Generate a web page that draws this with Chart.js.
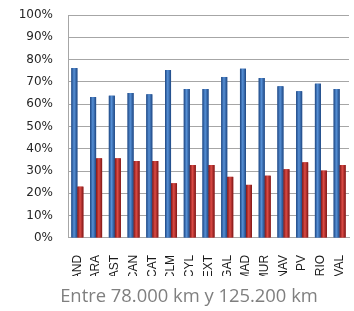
<!DOCTYPE html>
<html>
<head>
<meta charset="utf-8">
<script src="https://cdn.jsdelivr.net/npm/chart.js@4/dist/chart.umd.min.js"></script>
<style>
  html, body { margin: 0; padding: 0; background: #ffffff; }
  #grafico { display: block; }
</style>
</head>
<body>
<canvas id="grafico" width="354" height="311"></canvas>
<script>
// Comunidades autónomas
const comunidades = ['AND', 'ARA', 'AST', 'CAN', 'CAT', 'CLM', 'CYL', 'EXT', 'GAL', 'MAD', 'MUR', 'NAV', 'PV', 'RIO', 'VAL'];

// Porcentajes (serie azul y serie roja)
const serieAzul = [76.2, 63.2, 63.8, 65.0, 64.4, 75.3, 66.8, 66.8, 72.2, 75.9, 71.7, 68.0, 65.8, 69.2, 66.8];
const serieRoja = [23.0, 35.7, 35.7, 34.5, 34.5, 24.5, 32.7, 32.7, 27.4, 23.8, 27.9, 30.8, 33.9, 30.2, 32.7];

const ticksY = [0, 10, 20, 30, 40, 50, 60, 70, 80, 90, 100];
const titulo = 'Entre 78.000 km y 125.200 km';

// colores de cada serie: borde oscuro / centro claro
const tonos = [
  { base: '#3465a8', borde: '#1d4682', centro: '#5690d6' },
  { base: '#b52a2a', borde: '#7e1515', centro: '#dc4b45' }
];

// Plugin: sombreado cilíndrico sobre cada barra
const sombreado = {
  id: 'sombreado',
  afterDatasetsDraw(chart) {
    const ctx = chart.ctx;
    chart.data.datasets.forEach((ds, i) => {
      const meta = chart.getDatasetMeta(i);
      const t = tonos[i];
      meta.data.forEach(bar => {
        const { x, y, base, width } = bar.getProps(['x', 'y', 'base', 'width'], true);
        const x0 = x - width / 2;
        const g = ctx.createLinearGradient(x0, 0, x0 + width, 0);
        g.addColorStop(0, t.borde);
        g.addColorStop(0.45, t.centro);
        g.addColorStop(1, t.borde);
        ctx.save();
        ctx.fillStyle = g;
        ctx.fillRect(x0, y, width, base - y);
        ctx.restore();
      });
    });
  }
};

new Chart(document.getElementById('grafico'), {
  type: 'bar',
  data: {
    labels: comunidades,
    datasets: [
      { data: serieAzul, backgroundColor: tonos[0].base, borderWidth: 0, categoryPercentage: 0.64, barPercentage: 1 },
      { data: serieRoja, backgroundColor: tonos[1].base, borderWidth: 0, categoryPercentage: 0.64, barPercentage: 1 }
    ]
  },
  options: {
    responsive: false,
    animation: false,
    // derecha negativa para centrar el título como en el original
    layout: { padding: { left: 18, right: -6, top: 15, bottom: 0 } },
    plugins: {
      legend: { display: false },
      tooltip: { enabled: false },
      title: {
        display: true,
        text: titulo,
        position: 'bottom',
        color: '#7f7f7f',
        font: { family: "'Open Sans', sans-serif", size: 18.4, weight: 'normal' },
        padding: { top: 10, bottom: 3 }
      }
    },
    scales: {
      x: {
        grid: { display: false },
        border: { color: '#a6a6a6', width: 1 },
        ticks: {
          color: '#1a1a1a',
          font: { family: "'Liberation Sans', sans-serif", size: 12 },
          maxRotation: 90,
          minRotation: 90,
          padding: 9,
          autoSkip: false
        },
        afterFit(scale) {
          scale.height = 38;
          scale.paddingLeft = 0;
          scale.paddingRight = 5;
        }
      },
      y: {
        min: 0,
        max: 100,
        afterBuildTicks(axis) { axis.ticks = ticksY.map(v => ({ value: v })); },
        grid: { color: '#a6a6a6', lineWidth: 1, drawTicks: false },
        border: { color: '#a6a6a6', width: 1 },
        ticks: {
          color: '#262626',
          font: { family: "'DejaVu Sans', sans-serif", size: 12 },
          padding: 15,
          callback: v => v + '%'
        },
        afterFit(scale) {
          scale.width = 50;
          scale.paddingTop = 0;
          scale.paddingBottom = 0;
        }
      }
    }
  },
  plugins: [sombreado]
});
</script>
</body>
</html>
